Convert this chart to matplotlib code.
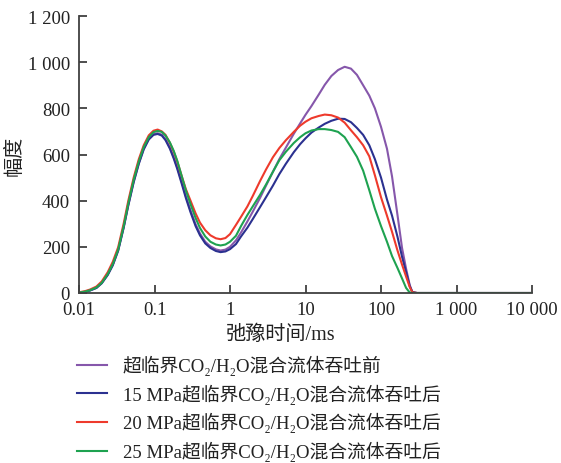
import matplotlib.pyplot as plt
import matplotlib.ticker as mticker

plt.rcParams['font.family'] = ['Liberation Serif', 'Noto Sans CJK SC', 'DejaVu Sans']

# relaxation time (ms)
t2 = [0.01, 0.012, 0.014, 0.017, 0.02, 0.024, 0.028, 0.033, 0.039, 0.045, 0.053,
      0.062, 0.072, 0.084, 0.097, 0.11, 0.125, 0.14, 0.16, 0.18, 0.2, 0.23, 0.26,
      0.3, 0.35, 0.4, 0.47, 0.55, 0.65, 0.75, 0.87, 1.0, 1.2, 1.4, 1.7, 2.0, 2.5,
      3, 3.7, 4.5, 5.5, 7, 8.5, 10, 12, 15, 18, 22, 27, 33, 40, 48, 58, 70, 83,
      100, 120, 140, 165, 190, 215, 240, 260, 300, 1000, 10000]

before = [1, 5, 11, 22, 43, 79, 121, 185, 284, 382, 483,
          563, 625, 668, 688, 692, 686, 666, 630, 588, 545, 480, 420,
          358, 298, 258, 222, 202, 189, 184, 188, 200, 228, 262, 310, 352, 412,
          465, 525, 580, 630, 690, 735, 772, 810, 860, 902, 940, 966, 980, 972, 945, 900, 855, 800,
          720, 625, 505, 340, 195, 105, 35, 3, 0, 0, 0]
p15 = [1, 5, 11, 22, 42, 78, 120, 183, 282, 380, 480,
       560, 622, 665, 685, 689, 682, 662, 625, 582, 538, 472, 412,
       350, 290, 250, 215, 195, 182, 177, 180, 190, 212, 245, 283, 320, 372,
       415, 465, 515, 560, 610, 645, 670, 695, 717, 733, 746, 755, 754, 740, 715, 685, 640, 580,
       500, 405, 335, 245, 157, 91, 30, 5, 0, 0, 0]
p20 = [3, 8, 15, 28, 50, 90, 135, 198, 300, 400, 500,
       580, 640, 683, 703, 708, 700, 685, 650, 612, 570, 505, 450,
       400, 345, 305, 272, 250, 237, 233, 238, 255, 295, 330, 375, 420, 485,
       535, 588, 628, 662, 698, 725, 742, 757, 767, 773, 770, 760, 738, 705, 675, 640, 592, 510,
       415, 335, 265, 185, 123, 71, 26, 3, 0, 0, 0]
p25 = [2, 6, 12, 24, 44, 82, 125, 188, 288, 388, 490,
       570, 632, 675, 697, 702, 698, 682, 652, 615, 573, 505, 445,
       385, 325, 282, 245, 222, 210, 206, 210, 222, 248, 290, 338, 375, 425,
       470, 525, 575, 612, 650, 675, 692, 704, 710, 710, 706, 698, 675, 632, 590, 530, 445, 365,
       290, 222, 160, 109, 63, 22, 2, 0, 0, 0, 0]

labels = ['超临界CO₂/H₂O混合流体吞吐前',
          '15 MPa超临界CO₂/H₂O混合流体吞吐后',
          '20 MPa超临界CO₂/H₂O混合流体吞吐后',
          '25 MPa超临界CO₂/H₂O混合流体吞吐后']
colors = ['#8657ab', '#2b3190', '#ee3a2c', '#1ea250']

xticks = [0.01, 0.1, 1, 10, 100, 1000, 10000]
xticklabels = ['0.01', '0.1', '1', '10', '100', '1 000', '10 000']
yticks = [0, 200, 400, 600, 800, 1000, 1200]
yticklabels = ['0', '200', '400', '600', '800', '1 000', '1 200']

fig = plt.figure(figsize=(5.61, 4.64), dpi=100)
ax = fig.add_axes([79 / 561, 1 - 294 / 464, 453 / 561, 277 / 464])

for ys, c, lab in zip([before, p15, p20, p25], colors, labels):
    ax.plot(t2, ys, color=c, lw=1.5, label=lab)

ax.set_xscale('log')
ax.set_xlim(0.01, 10000)
ax.set_ylim(0, 1200)
ax.set_xticks(xticks)
ax.set_xticklabels(xticklabels)
ax.xaxis.set_minor_locator(mticker.NullLocator())
ax.set_yticks(yticks)
ax.set_yticklabels(yticklabels)

for s in ['top', 'right']:
    ax.spines[s].set_visible(False)
for s in ['left', 'bottom']:
    ax.spines[s].set_color('#404040')
    ax.spines[s].set_linewidth(1.3)
ax.tick_params(axis='both', direction='in', length=6, width=1.3, color='#404040',
               labelsize=13.5, labelcolor='#222222')
ax.tick_params(axis='y', pad=6.5)
ax.tick_params(axis='x', pad=6)

ax.set_xlabel('弛豫时间/ms', fontsize=14.5, color='#222222')
ax.xaxis.set_label_coords(0.446, -0.115)
ax.set_ylabel('幅度', fontsize=14.5, color='#222222')
ax.yaxis.set_label_coords(-0.12, 0.5)

fig.legend(loc='upper left', bbox_to_anchor=(77 / 561, 1 - 356 / 464),
           frameon=False, fontsize=13.5, borderpad=0, borderaxespad=0,
           handlelength=1.6, handletextpad=0.85, labelspacing=0.45,
           labelcolor='#222222')

fig.savefig('out.png', dpi=100)
